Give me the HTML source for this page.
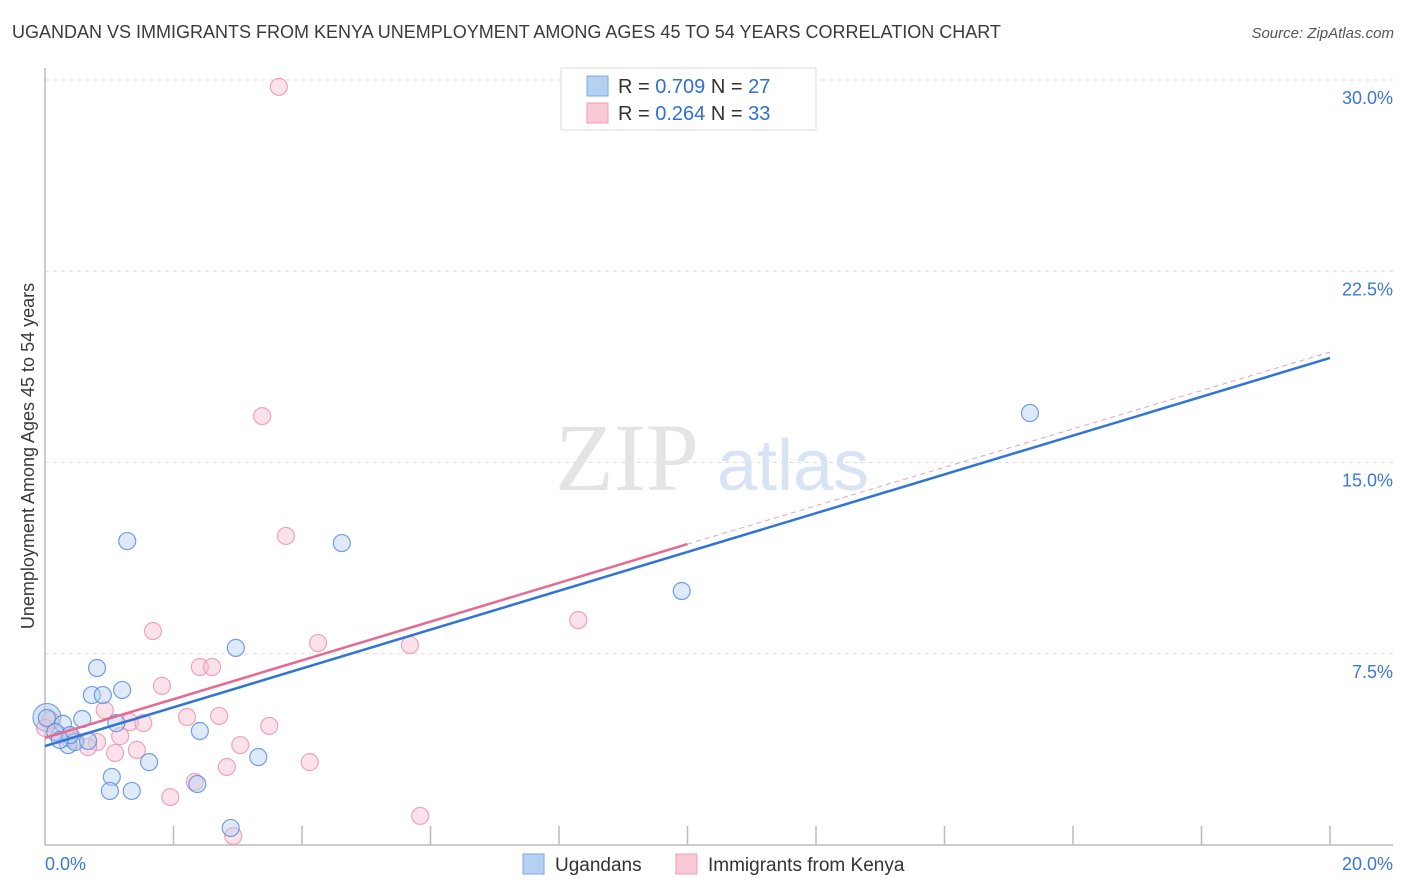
<!DOCTYPE html>
<html><head><meta charset="utf-8">
<style>
body{margin:0;background:#fff;font-family:"Liberation Sans",sans-serif;}
#wrap{position:relative;width:1406px;height:892px;overflow:hidden;}
.t{position:absolute;white-space:nowrap;}
</style></head>
<body>
<div id="wrap">
<div class="t" style="left:12px;top:22px;font-size:18px;color:#3a3a3a;">UGANDAN VS IMMIGRANTS FROM KENYA UNEMPLOYMENT AMONG AGES 45 TO 54 YEARS CORRELATION CHART</div>
<div class="t" style="right:12px;top:25px;font-size:15px;color:#555;font-style:italic;">Source: ZipAtlas.com</div>
<svg id="svg" width="1406" height="892" style="position:absolute;left:0;top:0"></svg>
</div>
<script>
const xTickLabels=["0.0%","20.0%"];
const yTicks=[7.5,15,22.5,30];
const yTickLabels=["7.5%","15.0%","22.5%","30.0%"];
const blueX=[0.03,0.28,0.36,0.47,0.58,0.67,0.81,0.73,0.90,1.20,1.11,1.04,1.01,1.35,1.62,1.28,2.41,2.37,2.97,2.89,3.32,4.62,9.91,15.33,0.16,0.39,0.23];
const blueY=[4.98,4.75,3.92,4.04,4.94,4.08,6.94,5.88,5.88,6.08,4.78,2.67,2.12,2.12,3.25,11.92,4.47,2.39,7.73,0.67,3.45,11.84,9.96,16.94,4.43,4.31,4.12];
const pinkX=[3.64,3.38,3.75,1.68,1.82,2.41,2.60,4.25,5.68,8.30,0.93,1.32,1.53,1.17,0.81,0.67,1.09,1.43,2.21,2.71,3.04,3.49,2.83,4.12,2.33,1.95,5.84,2.93,0.08,0.23,0.47,0.00,0.36];
const pinkY=[29.73,16.82,12.12,8.39,6.24,6.98,6.98,7.92,7.84,8.82,5.29,4.82,4.78,4.27,4.04,3.84,3.61,3.73,5.02,5.06,3.92,4.67,3.06,3.25,2.47,1.88,1.14,0.35,4.90,4.31,4.12,4.59,4.20];
const blueTrend=[[0,3.88],[20,19.1]];
const pinkTrend=[[0,4.20],[10,11.8]];
const pinkDash=[[10,11.8],[20,19.33]];

const NS="http://www.w3.org/2000/svg";
const svg=document.getElementById('svg');
const X0=45,X1=1330,Y0=845,PXY=25.5;
const sx=v=>X0+(X1-X0)*v/20;
const sy=v=>Y0-v*PXY;
function mk(tag,attrs){const e=document.createElementNS(NS,tag);for(const k in attrs)e.setAttribute(k,attrs[k]);svg.appendChild(e);return e;}

// gridlines
yTicks.forEach((v,i)=>{
  const g=mk('line',{x1:X0,x2:1393,y1:sy(v),y2:sy(v),stroke:'#dddddd','stroke-dasharray':'4,4'});
  
  
  const t=mk('text',{x:1393,y:sy(v)+24,'text-anchor':'end','font-size':18,fill:'#3b78d6','font-family':'Liberation Sans, sans-serif'});
  t.textContent=yTickLabels[i];
  
  
});
// axes
const ax=mk('line',{x1:X0,x2:1393,y1:Y0,y2:Y0,stroke:'#bbb','stroke-width':1.5});


const ay=mk('line',{x1:X0,x2:X0,y1:68,y2:Y0,stroke:'#bbb','stroke-width':1.5});


for(let i=1;i<=10;i++){
  const tk=mk('line',{x1:sx(i*2),x2:sx(i*2),y1:826,y2:Y0,stroke:'#bbb','stroke-width':1.5});
  
  
}
[[0,'start',45],[1,'end',1393]].forEach(([i,a,x])=>{
  const t=mk('text',{x:x,y:870,'text-anchor':a,'font-size':18,fill:'#3b78d6','font-family':'Liberation Sans, sans-serif'});
  t.textContent=xTickLabels[i];
  
  
});
const yt=mk('text',{x:0,y:0,transform:'translate(34,456) rotate(-90)','text-anchor':'middle','font-size':18,fill:'#3a3a3a','font-family':'Liberation Sans, sans-serif'});
yt.textContent='Unemployment Among Ages 45 to 54 years';


// watermark
const wm=mk('text',{x:555,y:490,'font-size':96,fill:'#e4e4e4','font-family':'Liberation Serif, serif'});
wm.textContent='ZIP';


const wm2=mk('text',{x:717,y:490,'font-size':72,fill:'#d8e4f4','font-family':'Liberation Sans, sans-serif'});
wm2.textContent='atlas';


// points
function pts(xs,ys,fill,stroke,name){
  xs.forEach((x,i)=>{
    const c=mk('circle',{cx:sx(x),cy:sy(ys[i]),r:8.5,fill:fill,'fill-opacity':0.45,stroke:stroke,'stroke-width':1.2,'stroke-opacity':0.8});
    
    
  });
}
const big=mk('circle',{cx:sx(0.03),cy:sy(5.0),r:14,fill:'#a9c6ef','fill-opacity':0.5,stroke:'#6d9be0','stroke-width':1});


pts(pinkX,pinkY,'#f7bfd0','#e890ac','kenya-point');
pts(blueX,blueY,'#b6d0f2','#4f89dc','ugandan-point');
// trends
function line(d,col,w,dash,name){
  const l=mk('line',{x1:sx(d[0][0]),y1:sy(d[0][1]),x2:sx(d[1][0]),y2:sy(d[1][1]),stroke:col,'stroke-width':w});
  if(dash)l.setAttribute('stroke-dasharray',dash);
  
  
}
line(pinkDash,'#e8a0b8',1,'5,4','kenya-trend-extension');
line(blueTrend,'#2f74d6',2.5,null,'ugandan-trend-line');
line(pinkTrend,'#e8688f',2.5,null,'kenya-trend-line');
// legend
const lg=mk('rect',{x:561,y:68,width:255,height:62,fill:'#fff',stroke:'#ddd'});


[[0,'#b6d0f2','#7fa9e6','0.709','27'],[1,'#fbc8d6','#ef9db7','0.264','33']].forEach(([i,f,s,r,n])=>{
  const y=76+i*27;
  const sw=mk('rect',{x:587,y:y,width:21,height:20,fill:f,stroke:s});
  
  
  const t=mk('text',{x:618,y:y+17,'font-size':20,fill:'#333','font-family':'Liberation Sans, sans-serif'});
  t.innerHTML='R = <tspan fill="#2f6fd6">'+r+'</tspan>   N = <tspan fill="#2f6fd6">'+n+'</tspan>';
  t.setAttribute('xml:space','preserve');
  
  
});
// bottom legend
[[523,'#b6d0f2','#7fa9e6','Ugandans'],[676,'#fbc8d6','#ef9db7','Immigrants from Kenya']].forEach(([x,f,s,lab])=>{
  const sw=mk('rect',{x:x,y:854,width:21,height:20,fill:f,stroke:s});
  
  
  const t=mk('text',{x:x+32,y:871,'font-size':19,fill:'#333','font-family':'Liberation Sans, sans-serif'});
  t.textContent=lab;
  
  
});
</script>
</body></html>
